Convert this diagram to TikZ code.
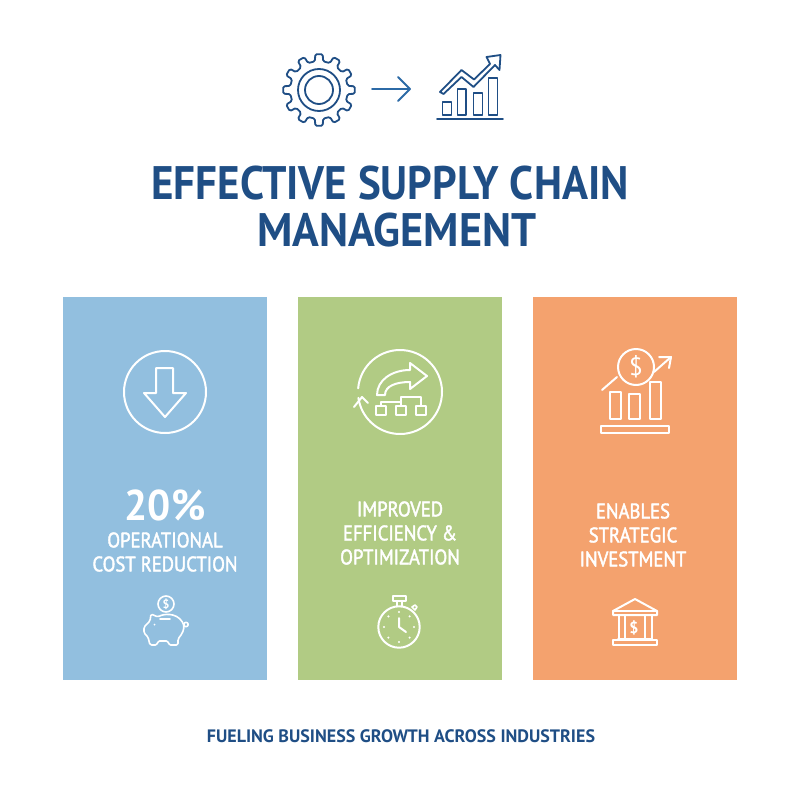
\documentclass[tikz,border=0pt]{standalone}
\usepackage{fontspec}
\setmainfont{PT Sans}
\newfontfamily\titlefont[FakeStretch=0.915]{PT Sans}
\newfontfamily\titlefontwide[FakeStretch=0.94]{PT Sans}
\newfontfamily\bigfont[FakeStretch=0.95]{PT Sans}
\newfontfamily\panelfont[FakeStretch=0.89,FakeBold=2]{PT Sans}
\usetikzlibrary{positioning,calc}
\definecolor{navy}{HTML}{1F4E85}
\definecolor{iconblue}{HTML}{2C6AA6}
\definecolor{panelblue}{HTML}{92BFDF}
\definecolor{panelgreen}{HTML}{B1CB84}
\definecolor{panelorange}{HTML}{F4A26E}
\begin{document}
\begin{tikzpicture}
[x=1pt, y=-1pt, line join=round, line cap=round,
panel/.style={rectangle, draw=none, inner sep=0pt, minimum width=204pt, minimum height=383pt},
topicon/.style={draw=navy, line width=1.8pt},
whiteicon/.style={draw=white, line width=2pt},
thinicon/.style={draw=white, line width=1.6pt},
titletext/.style={text=navy, inner sep=0pt},
bigtext/.style={text=white, font=\bigfont\fontsize{43}{43}\selectfont\bfseries, inner sep=0pt},
paneltext/.style={text=white, font=\panelfont\fontsize{21}{24}\selectfont, align=center, inner sep=0pt},
foottext/.style={text=navy, font=\fontsize{18}{20}\selectfont\bfseries, inner sep=0pt},
coinsign/.style={text=white, inner sep=0pt}
]
\useasboundingbox (0,0) rectangle (800,800);

\node[panel,fill=panelblue] (bluepanel) at (165,488.5) {};
\node[panel,fill=panelgreen] (greenpanel) at (400,488.5) {};
\node[panel,fill=panelorange] (orangepanel) at (635,488.5) {};

\node[titletext,font=\titlefont\fontsize{47}{47}\selectfont\bfseries] (titleone) at (390,183) {EFFECTIVE SUPPLY CHAIN};
\node[titletext,font=\titlefontwide\fontsize{47}{47}\selectfont\bfseries] (titletwo) at (397,230) {MANAGEMENT};
\node[bigtext] (percent) at (165,505.5) {20\%};
\node[paneltext] (costtext) at (165,552) {OPERATIONAL\\COST REDUCTION};
\node[paneltext] (efficiencytext) at (400,533) {IMPROVED\\EFFICIENCY \&\\OPTIMIZATION};
\node[paneltext] (investtext) at (633,535) {ENABLES\\STRATEGIC\\INVESTMENT};
\node[foottext] (footer) at (401,736) {FUELING BUSINESS GROWTH ACROSS INDUSTRIES};

% gear
\begin{scope}[shift={(319,90)}]
\draw[topicon,rounded corners=1.5pt] (-8:29) \foreach \a in {0,30,...,330} {-- (\a-8:29) -- (\a-6:36) -- (\a+6:36) -- (\a+8:29)} -- cycle;
\draw[topicon] (0,0) circle (21);
\draw[topicon] (0,0) circle (14);
\end{scope}

\coordinate (arrowstart) at (372,89);
\coordinate (arrowend) at (410,89);
\draw[topicon,draw=iconblue] (arrowstart) -- (arrowend);
\draw[topicon,draw=iconblue] (398,77) -- (arrowend) -- (398,101);

% chart
\draw[topicon] (437,119) -- (503,119);
\draw[topicon] (442.5,102) rectangle (451.5,115);
\draw[topicon] (457.5,89) rectangle (466,115);
\draw[topicon] (473.5,93) rectangle (482.5,115);
\draw[topicon] (488.5,78) rectangle (497.5,115);
\draw[topicon] (440,92) -- (461.5,70) -- (474,79.5) -- (490,64) -- (486.5,57) -- (500.5,55) -- (499.5,70) -- (495,65) -- (473.5,87) -- (461.5,77) -- (443.5,94) -- cycle;

% down arrow
\draw[whiteicon] (165,392) circle (41);
\draw[whiteicon] (156,368) -- (173,368) -- (173,393) -- (186,393) -- (165,417) -- (144,393) -- (156,393) -- cycle;

% process
\draw[whiteicon] (400,392) ++(185:42) arc (185:532:42);
\draw[whiteicon] (354,407) -- (362,397) -- (368,403);
\draw[whiteicon] (377,395) .. controls (377,380) and (392,370) .. (410,370) -- (410,363) -- (427,376) -- (410,389) -- (410,382) .. controls (396,382) and (385,386) .. (385,395) -- cycle;
\draw[thinicon] (376,406) rectangle (386,415);
\draw[thinicon] (396,406) rectangle (406,415);
\draw[thinicon] (416,406) rectangle (426,415);
\draw[thinicon] (381,406) -- (381,402) -- (401,402);
\draw[thinicon] (401,406) -- (401,397) -- (421,397) -- (421,406);

% investment
\draw[whiteicon] (636,367) circle (18);
\node[coinsign,font=\fontsize{25}{25}\selectfont] (dollarbig) at (636,367) {\$};
\draw[whiteicon] (602,390) -- (617,377);
\draw[whiteicon] (654,372) -- (671,357);
\draw[whiteicon] (659,357) -- (671,357) -- (669,368);
\draw[whiteicon] (610,392) rectangle (621,419);
\draw[whiteicon] (629,394) rectangle (640,419);
\draw[whiteicon] (650,382) rectangle (661,419);
\draw[whiteicon] (601,426) rectangle (669,433);

% piggy bank
\draw[thinicon] (166,604) circle (8);
\node[coinsign,font=\fontsize{12}{12}\selectfont\bfseries] (dollarcoin) at (166,604) {\$};
\draw[thinicon,rounded corners=1.5pt] (144,627) -- (150,621) -- (151,614) -- (158,617) .. controls (163,614) and (176,612) .. (183,623) .. controls (185,629) and (182,634) .. (178,639) -- (178,645) -- (169,645) -- (168,641) -- (158,641) -- (157,645) -- (150,645) -- (148,637) -- (144,633) -- cycle;
\draw[thinicon] (160,619) -- (170,619);
\draw[thinicon] (186,624.5) circle (2.2);
\fill[white] (154.5,624.5) circle (1);

% stopwatch
\draw[whiteicon] (399,627) circle (20.7);
\draw[whiteicon] (393,596) rectangle (406,601);
\draw[thinicon] (397,601) -- (397,606);
\draw[thinicon] (402,601) -- (402,606);
\draw[thinicon] (412,607) -- (415,605) -- (417,607) -- (415,610) -- cycle;
\draw[whiteicon] (399,618) -- (399,627) -- (406,632);
\foreach \a in {0,45,...,315}
  \fill[white] (399,627) ++(\a:15) circle (1.2);

% bank
\draw[whiteicon] (635,599) -- (657,611) -- (657,615) -- (613,615) -- (613,611) -- cycle;
\draw[thinicon] (613,611) -- (657,611);
\draw[whiteicon] (619,615) rectangle (625,639);
\draw[whiteicon] (645,615) rectangle (652,639);
\draw[thinicon] (618,639) -- (652,639);
\draw[whiteicon] (613,640) rectangle (657,645);
\node[coinsign,font=\fontsize{16}{16}\selectfont\bfseries] (dollarbank) at (634,628) {\$};
\end{tikzpicture}
\end{document}
